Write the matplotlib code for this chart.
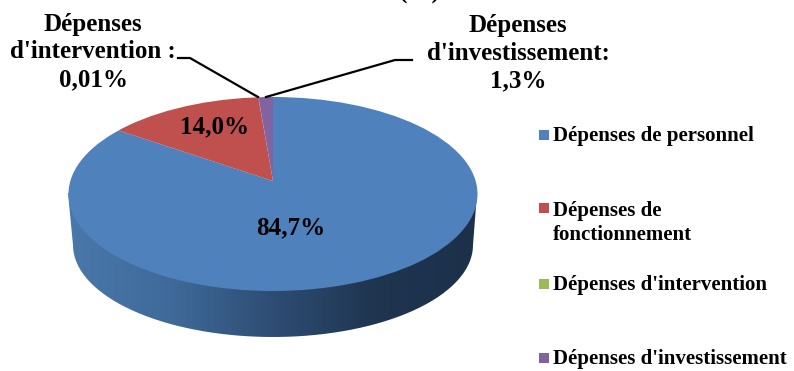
import numpy as np
import matplotlib
matplotlib.use('Agg')
import matplotlib.pyplot as plt
from matplotlib.colors import LinearSegmentedColormap
from matplotlib.patches import Ellipse, PathPatch
from matplotlib.path import Path
from matplotlib.transforms import Affine2D

labels = ['Dépenses de personnel', 'Dépenses de\nfonctionnement',
          "Dépenses d'intervention", "Dépenses d'investissement"]
values = [84.7, 14.0, 0.01, 1.3]
colors = ['#4F81BD', '#C0504D', '#9BBB59', '#8064A2']
side_colors = ['#4A78AB', '#3F6A9A', '#2E4D74', '#1F3550', '#1C3049']

plt.rcParams['font.family'] = ['Liberation Serif', 'DejaVu Serif']
plt.rcParams['font.weight'] = 'bold'

W, H = 794, 371
fig = plt.figure(figsize=(W / 100, H / 100), dpi=100)
ax = fig.add_axes([0, 0, 1, 1])


def py(y):
    # picture rows run downwards
    return H - y


# side of the disc, gradient clipped to the outline
t = np.linspace(np.pi, 2 * np.pi, 200)
xs = 273 + 200 * np.cos(t)
ys = py(245) + 92 * np.sin(t)
verts = np.vstack([[68, py(193)], np.column_stack([xs, ys]), [477, py(193)], [68, py(193)]])
side = PathPatch(Path(verts), fc='none', ec='none', transform=ax.transData)
ax.add_patch(side)
cmap = LinearSegmentedColormap.from_list('side', side_colors)
img = ax.imshow(np.linspace(0, 1, 256).reshape(1, -1), cmap=cmap, aspect='auto',
                extent=(68, 477, py(340), py(190)), zorder=1)
img.set_clip_path(side)

# top face: the pie apex sits above the ellipse centre (perspective)
cx, cy, k = 273, py(181), 0.47
wedges, _ = ax.pie(values, colors=colors, startangle=90, counterclock=False,
                   center=(cx, cy), radius=320)
top = Ellipse((273, py(194)), 409, 194, fc='none', ec='none', transform=ax.transData)
ax.add_patch(top)
squash = Affine2D().translate(-cx, -cy).scale(1, k).translate(cx, cy) + ax.transData
for w in wedges:
    w.set_transform(squash)
    w.set_zorder(2)
    w.set_clip_on(True)
    w.set_clip_path(top)
    w.set_linewidth(0)

ax.set_aspect('auto')
ax.set_xlim(0, W)
ax.set_ylim(0, H)
ax.axis('off')

# labels
ax.text(215, py(127), '14,0%', fontsize=18, ha='center', va='center', zorder=5)
ax.text(291, py(228), '84,7%', fontsize=18, ha='center', va='center', zorder=5)
ax.text(93, py(52), 'Dépenses\nd\'intervention :\n0,01%', fontsize=18, ha='center',
        va='center', linespacing=1.25, zorder=5)
ax.text(518, py(53), 'Dépenses\nd\'investissement:\n1,3%', fontsize=18, ha='center',
        va='center', linespacing=1.25, zorder=5)
ax.text(420, py(-8), '(%)', fontsize=18, ha='center', va='center', clip_on=False)

# leader lines
ax.plot([178, 190, 258], [py(58), py(58), py(97)], color='black', lw=1.6, zorder=4)
ax.plot([412, 395, 266], [py(60), py(60), py(97)], color='black', lw=1.6, zorder=4)

# legend
leg_y = [135, 208, 284, 358]
for lab, col, y in zip(labels, colors, leg_y):
    ax.scatter([544], [py(y)], marker='s', s=62, color=col, linewidths=0, zorder=5)
    ax.text(553, py(y - 9 + 2) if '\n' in lab else py(y + 1), lab, fontsize=15,
            va='top' if '\n' in lab else 'center', ha='left', linespacing=1.25, zorder=5)

fig.savefig('out.png', dpi=100)
